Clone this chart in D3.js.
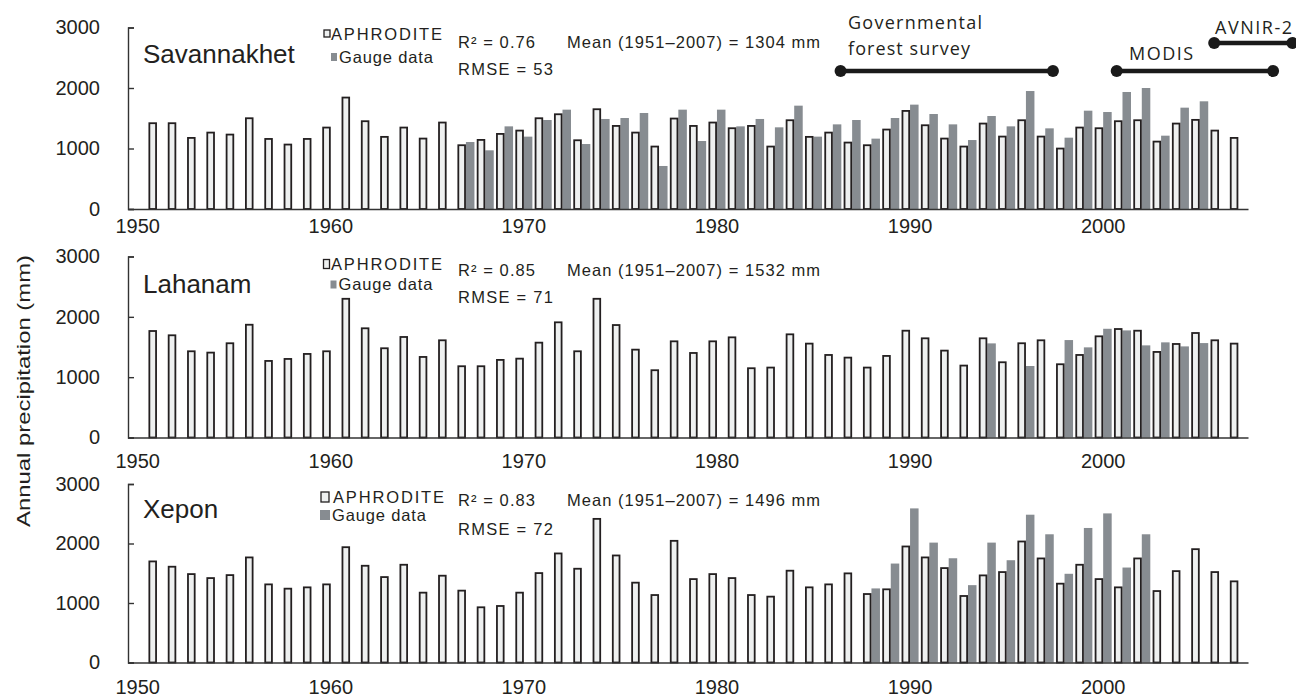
<!DOCTYPE html>
<html>
<head>
<meta charset="utf-8">
<script src="https://cdn.jsdelivr.net/npm/d3@7"></script>
<style>
  body { margin: 0; background: #fff; }
  text { font-family: "Liberation Sans", Arial, sans-serif; fill: #231f20; }
</style>
</head>
<body>
<div id="chart"></div>
<script>
// categories: axis runs 1950..2007, data 1951..2007
var axisYears = d3.range(1950, 2008);
var years = d3.range(1951, 2008);

var stationNames = ["Savannakhet", "Lahanam", "Xepon"];
var r2Values = ["0.76", "0.85", "0.83"];
var rmseValues = ["53", "71", "72"];
var meanValues = ["1304", "1532", "1496"];

var savAph = [1433,1433,1190,1278,1245,1515,1173,1080,1173,1361,
              1857,1466,1207,1361,1179,1444,1069,1157,1256,1311,
              1515,1581,1151,1664,1388,1278,1047,1510,1388,1444,
              1350,1388,1047,1482,1207,1278,1113,1069,1328,1636,
              1399,1179,1047,1427,1212,1482,1212,1014,1361,1350,
              1466,1482,1129,1427,1488,1311,1190];
var savGaugeYears = d3.range(1967, 2006);
var savGauge = [1107,970,1366,1196,1471,1642,1074,1488,1504,1587,
                711,1642,1124,1642,1366,1488,1350,1708,1196,1399,
                1471,1163,1504,1725,1570,1399,1140,1537,1366,1950,
                1333,1179,1625,1603,1934,2000,1212,1675,1780];

var lahAph = [1780,1709,1444,1422,1577,1884,1284,1317,1400,1444,
              2314,1825,1494,1681,1350,1626,1196,1196,1301,1322,
              1587,1924,1444,2314,1879,1471,1130,1609,1416,1609,
              1675,1163,1174,1725,1571,1383,1339,1174,1367,1785,
              1659,1455,1207,1659,1262,1577,1626,1229,1383,1692,
              1813,1785,1433,1565,1747,1626,1571];
var lahGaugeYears = [1994,1996,1998,1999,2000,2001,2002,2003,2004,2005];
var lahGauge = [1560,1185,1615,1494,1802,1775,1527,1577,1510,1565];

var xepAph = [1714,1625,1501,1434,1484,1781,1328,1256,1278,1328,
              1953,1641,1451,1658,1189,1474,1223,943,965,1189,
              1518,1848,1591,2429,1814,1357,1149,2060,1417,1501,
              1434,1149,1122,1558,1278,1328,1513,1166,1245,1965,
              1781,1602,1133,1479,1535,2049,1764,1340,1658,1417,
              1278,1764,1216,1551,1920,1535,1379];
var xepGaugeYears = d3.range(1988, 2003);
var xepGauge = [1245,1663,2590,2015,1752,1300,2015,1719,2484,2155,
                1491,2261,2506,1596,2155];

var yTicks = [0, 1000, 2000, 3000];
var xTicks = [1950, 1960, 1970, 1980, 1990, 2000];

var periodLabels = ["Governmental forest survey", "MODIS", "AVNIR-2"];
var periodStart = [1986.4, 2000.7, 2005.75];
var periodEnd = [1997.4, 2008.8, 2009.8];

var aphSeries = [savAph, lahAph, xepAph];
var gaugeYearSeries = [savGaugeYears, lahGaugeYears, xepGaugeYears];
var gaugeSeries = [savGauge, lahGauge, xepGauge];

// layout of each panel
var layout = [
  {top: 27.5, bottom: 209, xPad: 10, nameY: 63, aphY: 40, gaugeY: 62.5, statY: 48, rmseY: 75,
   aphBox: [324, 30, 6, 7], gaugeBox: [331, 53, 6, 8], legX: 331},
  {top: 256.5, bottom: 437.5, xPad: 16, nameY: 293, aphY: 270, gaugeY: 289.5, statY: 276, rmseY: 303,
   aphBox: [323.5, 259.5, 6, 9], gaugeBox: [330.5, 280.5, 6, 8], legX: 331},
  {top: 484, bottom: 662.5, xPad: 17, nameY: 518, aphY: 503, gaugeY: 521, statY: 506, rmseY: 535,
   aphBox: [321, 492, 8, 10], gaugeBox: [320, 510, 10, 10], legX: 333}
];

var W = 1296, H = 699;
var svg = d3.select("#chart").append("svg")
    .attr("width", W)
    .attr("height", H);

var x = d3.scaleBand().domain(axisYears).range([128, 1248]).padding(0);
var xs = d3.scaleBand().domain(["aph", "gauge"]).range([0, x.bandwidth()])
    .paddingInner(0).paddingOuter(0.135);
var xLin = d3.scaleLinear().domain([1949.5, 2007.5]).range([128, 1248]);

var aphFill = "#eef0f0", gaugeFill = "#878c91", ink = "#231f20";

layout.forEach(function (L, p) {
    var y = d3.scaleLinear().domain([0, 3000]).range([L.bottom, L.top]);
    var g = svg.append("g").attr("class", "panel");

    // gauge bars
    var gData = gaugeYearSeries[p].map(function (yr, i) { return {year: yr, v: gaugeSeries[p][i]}; });
    g.selectAll("rect.gauge").data(gData).enter()
        .append("rect")
        .attr("class", "gauge")
        .attr("x", function (d) { return x(d.year) + xs("gauge"); })
        .attr("width", xs.bandwidth())
        .attr("y", function (d) { return y(d.v); })
        .attr("height", function (d) { return y(0) - y(d.v); })
        .attr("fill", gaugeFill);

    // APHRODITE bars
    var aData = years.map(function (yr, i) { return {year: yr, v: aphSeries[p][i]}; });
    g.selectAll("rect.aph").data(aData).enter()
        .append("rect")
        .attr("class", "aph")
        .attr("x", function (d) { return x(d.year) + xs("aph") + 0.9; })
        .attr("width", xs.bandwidth() - 1.8)
        .attr("y", function (d) { return y(d.v) + 0.9; })
        .attr("height", function (d) { return y(0) - y(d.v) - 0.9; })
        .attr("fill", aphFill)
        .attr("stroke", ink)
        .attr("stroke-width", 1.8);

    // x axis
    var xa = g.append("g")
        .attr("transform", "translate(0," + L.bottom + ")")
        .call(d3.axisBottom(x).tickValues(xTicks).tickSize(0).tickSizeOuter(0).tickPadding(L.xPad));
    xa.select(".domain").attr("stroke", "#333").attr("stroke-width", 1.4);
    xa.selectAll("text").style("font-size", "20px").attr("fill", ink);

    // y axis, ticks inside
    var ya = g.append("g")
        .attr("transform", "translate(128,0)")
        .call(d3.axisLeft(y).tickValues(yTicks).tickFormat(d3.format("d"))
            .tickSize(-6).tickPadding(28));
    ya.select(".domain").attr("stroke", "#333").attr("stroke-width", 1.4);
    ya.selectAll(".tick line").attr("stroke", "#333").attr("stroke-width", 1.4);
    ya.selectAll("text").style("font-size", "20px").attr("fill", ink);

    // station name
    g.append("text")
        .attr("x", 143).attr("y", L.nameY)
        .style("font-size", "26px")
        .text(stationNames[p]);

    // legend
    g.append("rect")
        .attr("x", L.aphBox[0]).attr("y", L.aphBox[1])
        .attr("width", L.aphBox[2]).attr("height", L.aphBox[3])
        .attr("fill", aphFill).attr("stroke", ink).attr("stroke-width", 1.3);
    g.append("rect")
        .attr("x", L.gaugeBox[0]).attr("y", L.gaugeBox[1])
        .attr("width", L.gaugeBox[2]).attr("height", L.gaugeBox[3])
        .attr("fill", gaugeFill);
    g.append("text")
        .attr("x", L.legX).attr("y", L.aphY)
        .attr("textLength", 111).attr("lengthAdjust", "spacing")
        .style("font-size", "16.5px")
        .text("APHRODITE");
    g.append("text")
        .attr("x", L.gaugeBox[0] + L.gaugeBox[2] + 2).attr("y", L.gaugeY)
        .attr("textLength", 94).attr("lengthAdjust", "spacing")
        .style("font-size", "16.5px")
        .text("Gauge data");

    // statistics
    g.append("text")
        .attr("x", 458).attr("y", L.statY)
        .attr("textLength", 77).attr("lengthAdjust", "spacing")
        .style("font-size", "16.5px")
        .text("R\u00b2 = " + r2Values[p]);
    g.append("text")
        .attr("x", 458).attr("y", L.rmseY)
        .attr("textLength", 95).attr("lengthAdjust", "spacing")
        .style("font-size", "16.5px")
        .text("RMSE = " + rmseValues[p]);
    g.append("text")
        .attr("x", 567).attr("y", L.statY)
        .attr("textLength", 253).attr("lengthAdjust", "spacing")
        .style("font-size", "16.5px")
        .text("Mean (1951\u20132007) = " + meanValues[p] + " mm");
});

// observation periods (top panel)
var lineY = [71, 71, 43];
var periods = svg.append("g").attr("class", "periods");
periodLabels.forEach(function (lab, i) {
    var x1 = xLin(periodStart[i]), x2 = xLin(periodEnd[i]);
    periods.append("line")
        .attr("x1", x1).attr("x2", x2)
        .attr("y1", lineY[i]).attr("y2", lineY[i])
        .attr("stroke", "#1a1a1a").attr("stroke-width", 4.5);
    periods.selectAll(null).data([x1, x2]).enter()
        .append("circle")
        .attr("cx", function (d) { return d; })
        .attr("cy", lineY[i])
        .attr("r", 6)
        .attr("fill", "#1a1a1a");
});
var annFont = "\"Open Sans\", \"Liberation Sans\", sans-serif";
periods.append("text").attr("x", 848).attr("y", 28.5)
    .attr("textLength", 134).attr("lengthAdjust", "spacing")
    .style("font-family", annFont).style("font-size", "18px")
    .text("Governmental");
periods.append("text").attr("x", 848).attr("y", 55)
    .attr("textLength", 122).attr("lengthAdjust", "spacing")
    .style("font-family", annFont).style("font-size", "18px")
    .text("forest survey");
periods.append("text").attr("x", 1129).attr("y", 60)
    .attr("textLength", 64).attr("lengthAdjust", "spacing")
    .style("font-family", annFont).style("font-size", "18px")
    .text(periodLabels[1]);
periods.append("text").attr("x", 1215).attr("y", 33.5)
    .attr("textLength", 77).attr("lengthAdjust", "spacing")
    .style("font-family", annFont).style("font-size", "18px")
    .text(periodLabels[2]);

// y axis title
svg.append("text")
    .attr("transform", "translate(30,391) rotate(-90)")
    .attr("text-anchor", "middle")
    .attr("textLength", 272).attr("lengthAdjust", "spacingAndGlyphs")
    .style("font-size", "19px")
    .text("Annual precipitation (mm)");
</script>
</body>
</html>
